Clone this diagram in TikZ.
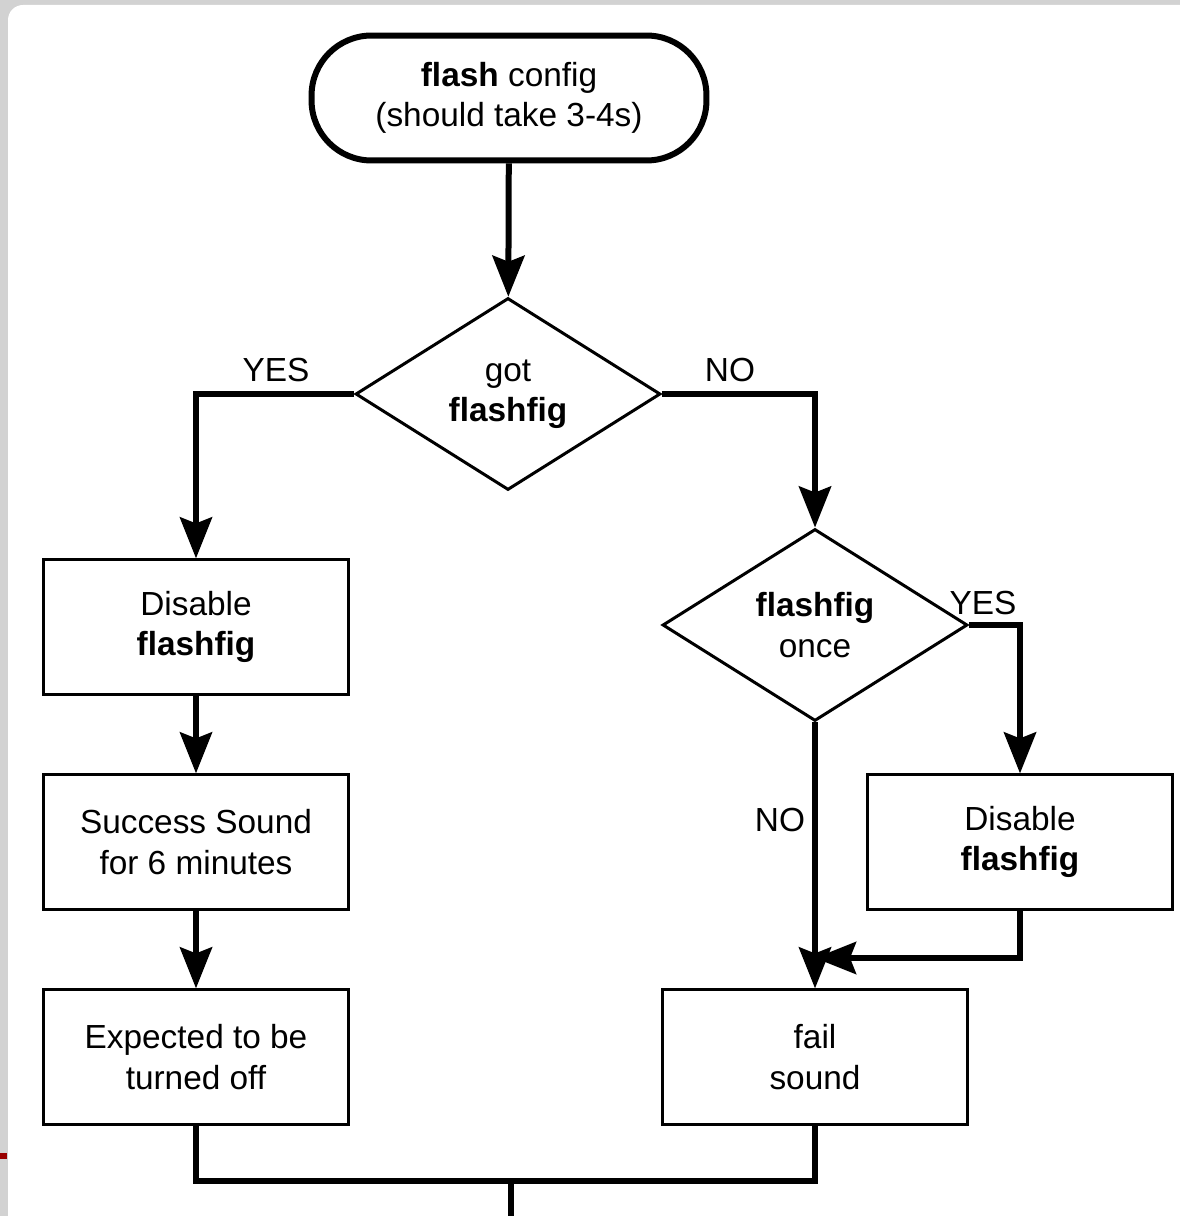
\documentclass[tikz,border=0pt]{standalone}
\usepackage{fontspec}
\setmainfont{Liberation Sans}
\usetikzlibrary{arrows.meta,shapes.geometric}

\tikzset{
    txt/.style={font=\fontsize{19}{23}\selectfont, align=center,
        execute at begin node={\rule{0pt}{0.72cm}}},
    terminal/.style={txt, draw, line width=0.12cm, rounded corners=1.2cm,
        minimum width=7.9cm, minimum height=2.5cm},
    decision/.style={txt, draw, diamond, line width=0.06cm, inner sep=0pt,
        aspect=1.59, minimum width=6.1cm, minimum height=3.84cm},
    process/.style={txt, draw, line width=0.045cm,
        minimum width=6.1cm, minimum height=2.7cm},
    flow/.style={line width=0.12cm, -{Stealth[length=0.82cm, width=0.64cm, inset=0.12cm]}},
    link/.style={line width=0.12cm},
    answer/.style={font=\fontsize{19}{23}\selectfont}
}

\begin{document}
\begin{tikzpicture}[x=0.02cm, y=-0.02cm]
            \useasboundingbox (0,0) rectangle (1180,1216);
            \clip (0,0) rectangle (1180,1216);

            % window frame
            \fill[gray!35] (0,0) rectangle (1180,1216);
            \fill[white, rounded corners=0.3cm] (8,5) rectangle (1220,1260);
            \fill[red!60!black] (0,1153) rectangle (7,1159);

            \node[terminal] (start) at (509,98) {\textbf{flash} config\\(should take 3-4s)};
            \node[decision] (got) at (508,394) {got\\\textbf{flashfig}};
            \node[decision] (once) at (815,625) {\textbf{flashfig}\\once};

            \node[process] (dis1) at (196,627) {Disable\\\textbf{flashfig}};
            \node[process] (succ) at (196,842) {Success Sound\\for 6 minutes};
            \node[process] (off) at (196,1057) {Expected to be\\turned off};
            \node[process] (dis2) at (1020,842) {Disable\\\textbf{flashfig}};
            \node[process] (fail) at (815,1057) {fail\\sound};

            \coordinate (merge) at (815,958);
            \coordinate (join) at (511,1181);
            \coordinate (out) at (511,1240);

            % answers
            \node[answer] (yes1) at (276,370) {YES};
            \node[answer] (no1) at (730,370) {NO};
            \node[answer] (yes2) at (983,603) {YES};
            \node[answer] (no2) at (780,820) {NO};

            \draw[flow] (start) -- (got);
            \draw[flow] (got.west) -| (dis1.north);
            \draw[flow] (got.east) -| (once.north);
            \draw[flow] (once.east) -| (dis2.north);
            \draw[flow] (once.south) -- (fail.north);
            \draw[flow] (dis2.south) |- (merge);

            \draw[flow] (dis1) -- (succ);
            \draw[flow] (succ) -- (off);

            \draw[link] (off.south) |- (join) -| (fail.south);
            \draw[link] (join) -- (out);

        \end{tikzpicture}
\end{document}
